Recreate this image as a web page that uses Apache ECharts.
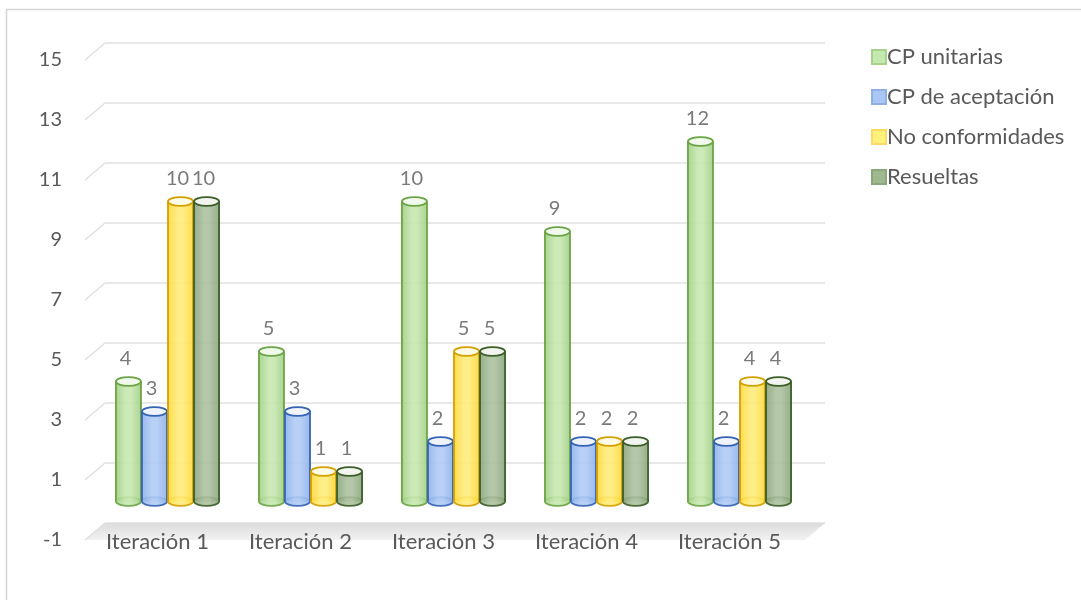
<!DOCTYPE html>
<html>
<head>
<meta charset="utf-8">
<script src="https://cdn.jsdelivr.net/npm/echarts@6/dist/echarts.min.js"></script>
<style>
html,body{margin:0;padding:0;background:#fff;}
#chart{width:1081px;height:600px;}
</style>
</head>
<body>
<div id="chart"></div>
<script>
// ---- data ----
const categories = ['Iteración 1', 'Iteración 2', 'Iteración 3', 'Iteración 4', 'Iteración 5'];
const seriesNames = ['CP unitarias', 'CP de aceptación', 'No conformidades', 'Resueltas'];
const cpUnitarias = [4, 5, 10, 9, 12];
const cpAceptacion = [3, 3, 2, 2, 2];
const noConformidades = [10, 1, 5, 2, 4];
const resueltas = [10, 1, 5, 2, 4];
const yMin = -1, yMax = 15, yStep = 2;

// ---- styles ----
const palette = [
  {edge: '#a3cf87', mid: '#c6e8b0', line: '#6aa444', cap: '#f1f9ec', legend: '#c5e8b0', legendBorder: '#a5d38a'},
  {edge: '#8eb1ea', mid: '#b0cbf4', line: '#3563b4', cap: '#eef3fc', legend: '#a9c6f5', legendBorder: '#8fb0e6'},
  {edge: '#ffd83a', mid: '#ffec7a', line: '#d4a000', cap: '#fffbe6', legend: '#fff27a', legendBorder: '#ffd966'},
  {edge: '#8ca57e', mid: '#acc19f', line: '#3c5e28', cap: '#f2f5ef', legend: '#a0b890', legendBorder: '#8aa87a'}
];
const allSeries = [cpUnitarias, cpAceptacion, noConformidades, resueltas];
const FONT = 'Lato, "Open Sans", sans-serif';

const chart = echarts.init(document.getElementById('chart'), null, {renderer: 'canvas'});

function cylinder(si) {
  return function (params, api) {
    const cat = api.value(0);
    const val = api.value(1);
    const band = api.size([1, 0])[0];
    const bw = band * 0.182;
    const c = api.coord([cat, val]);
    const base = api.coord([cat, 0]);
    const cx = c[0] + (si - 1.5) * bw;
    const x0 = cx - bw / 2;
    const yt = c[1], yb = base[1];
    const ry = 4.3, rx = bw / 2 - 0.5;
    const p = palette[si];
    const grad = new echarts.graphic.LinearGradient(0, 0, 1, 0, [
      {offset: 0, color: p.edge}, {offset: 0.4, color: p.mid}, {offset: 0.6, color: p.mid}, {offset: 1, color: p.edge}
    ]);
    return {
      type: 'group',
      children: [
        {type: 'ellipse', shape: {cx: cx, cy: yb, rx: rx, ry: ry}, style: {fill: grad, stroke: p.line, lineWidth: 1.8, opacity: 0.9}},
        {type: 'rect', shape: {x: x0 + 0.5, y: yt, width: bw - 1, height: yb - yt}, style: {fill: grad, opacity: 0.9}},
        {type: 'line', shape: {x1: cx - rx, y1: yt, x2: cx - rx, y2: yb}, style: {stroke: p.line, lineWidth: 1.8}},
        {type: 'line', shape: {x1: cx + rx, y1: yt, x2: cx + rx, y2: yb}, style: {stroke: p.line, lineWidth: 1.8}},
        {type: 'ellipse', shape: {cx: cx, cy: yt, rx: rx, ry: ry}, style: {fill: p.cap, stroke: p.line, lineWidth: 1.8}},
        {type: 'text', x: cx - 3, y: yt - 23, style: {text: String(val), fill: '#7a7a7a', font: '20px ' + FONT, align: 'center', verticalAlign: 'middle'}}
      ]
    };
  };
}

const ticks = [];
for (let v = yMin; v <= yMax; v += yStep) ticks.push(v);

const series = seriesNames.map(function (name, si) {
  return {
    name: name,
    type: 'custom',
    xAxisIndex: 2, yAxisIndex: 2,
    itemStyle: {color: palette[si].legend, borderColor: palette[si].legendBorder, borderWidth: 1},
    renderItem: cylinder(si),
    encode: {x: 0, y: 1},
    data: allSeries[si].map(function (v, i) { return [i, v]; }),
    z: 3
  };
});

// decorations: floor + diagonal connectors of the back wall gridlines
series.unshift({
  type: 'custom',
  xAxisIndex: 1, yAxisIndex: 1,
  silent: true,
  z: 1,
  data: ticks.map(function (v) { return [0, v]; }),
  renderItem: function (params, api) {
    const cs = params.coordSys;
    const v = api.value(1);
    const y = api.coord([0, v])[1];
    const xl = cs.x, xr = cs.x + cs.width;
    const children = [
      {type: 'line', shape: {x1: xl - 20, y1: y + 17, x2: xl, y2: y}, style: {stroke: '#e0e0e0', lineWidth: 1.5}}
    ];
    if (v === yMin) {
      children.unshift({type: 'polygon', shape: {points: [[xl, y], [xr, y], [xr - 20, y + 17], [xl - 20, y + 17]]},
        style: {fill: new echarts.graphic.LinearGradient(0, 0, 0, 1, [{offset: 0, color: '#dcdcdc'}, {offset: 1, color: '#f2f2f2'}])}});
    }
    return {type: 'group', children: children};
  }
});

chart.setOption({
  backgroundColor: '#ffffff',
  animation: false,
  textStyle: {fontFamily: FONT},
  graphic: [
    {type: 'rect', shape: {x: 6.5, y: 9.5, width: 1200, height: 800}, style: {fill: 'none', stroke: '#d4d4d4', lineWidth: 1.5}, z: 0}
  ],
  legend: {
    orient: 'vertical',
    left: 866, top: 39,
    itemWidth: 14, itemHeight: 14, itemGap: 14,
    icon: 'rect',
    textStyle: {color: '#595959', fontSize: 22, fontFamily: FONT, padding: [0, 0, 0, -4], lineHeight: 26},
    data: seriesNames
  },
  grid: [
    {left: 86, right: 280, top: 60, bottom: 60},   // front plane (labels)
    {left: 105, right: 256, top: 43, bottom: 77},  // back wall
    {left: 96, right: 270, top: 51.5, bottom: 68.5} // mid plane (bars)
  ],
  xAxis: [
    {gridIndex: 0, type: 'category', data: categories, z: 10,
      axisLine: {show: false}, axisTick: {show: false}, splitLine: {show: false},
      axisLabel: {color: '#595959', fontSize: 22, fontFamily: FONT, margin: 2, verticalAlign: 'middle'}},
    {gridIndex: 1, type: 'category', data: categories, show: false},
    {gridIndex: 2, type: 'category', data: categories, show: false}
  ],
  yAxis: [
    {gridIndex: 0, type: 'value', min: yMin, max: yMax, interval: yStep,
      axisLine: {show: false}, axisTick: {show: false}, splitLine: {show: false},
      axisLabel: {color: '#595959', fontSize: 20, fontFamily: FONT, margin: 24}},
    {gridIndex: 1, type: 'value', min: yMin, max: yMax, interval: yStep,
      axisLine: {show: false}, axisTick: {show: false}, axisLabel: {show: false},
      splitLine: {show: true, lineStyle: {color: '#e0e0e0', width: 1.5}}},
    {gridIndex: 2, type: 'value', min: yMin, max: yMax, interval: yStep, show: false}
  ],
  series: series
});
</script>
</body>
</html>
